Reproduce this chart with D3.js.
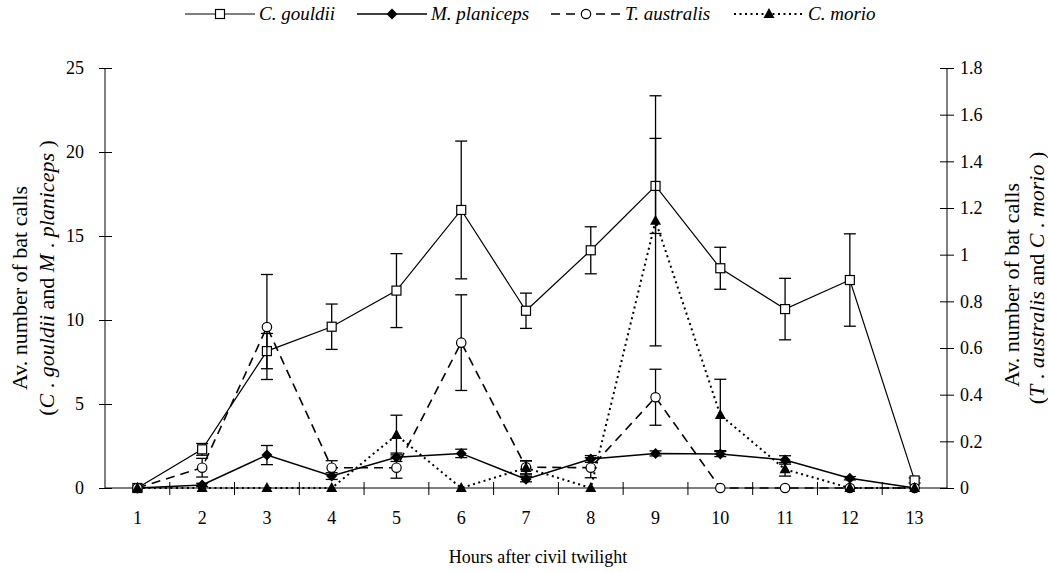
<!DOCTYPE html>
<html>
<head>
<meta charset="utf-8">
<script src="https://cdn.jsdelivr.net/npm/d3@7"></script>
<style>
  html, body { margin: 0; padding: 0; background: #fff; }
  svg { display: block; }
  svg text { font-family: "Liberation Serif", "Times New Roman", Times, "DejaVu Serif", serif !important; fill: #000; }
</style>
</head>
<body>
<svg id="chart" width="1048" height="572"></svg>
<script>
// ---------- data ----------
const categories = [1, 2, 3, 4, 5, 6, 7, 8, 9, 10, 11, 12, 13];
const leftTicks = [0, 5, 10, 15, 20, 25];
const rightTicks = [0, 0.2, 0.4, 0.6, 0.8, 1, 1.2, 1.4, 1.6, 1.8];

const gouldii      = [0, 2.3, 8.15, 9.6, 11.75, 16.55, 10.55, 14.15, 17.98, 13.08, 10.65, 12.38, 0.45];
const gouldiiErr   = [0, 0.35, 1.05, 1.35, 2.2, 4.1, 1.05, 1.4, 2.83, 1.25, 1.83, 2.75, 0.15];
const planiceps    = [0, 0.18, 1.96, 0.71, 1.83, 2.06, 0.52, 1.73, 2.06, 2.02, 1.67, 0.58, 0];
const planicepsErr = [0, 0.1, 0.57, 0.2, 0.25, 0.25, 0.15, 0.2, 0.15, 0.15, 0.25, 0.1, 0];
const australis    = [0, 0.087, 0.69, 0.087, 0.087, 0.623, 0.089, 0.087, 0.389, 0, 0, 0, 0];
const australisErr = [0, 0.04, 0.225, 0.03, 0.045, 0.205, 0.028, 0.043, 0.12, 0, 0, 0, 0];
const morio        = [0, 0, 0, 0, 0.227, 0, 0.086, 0, 1.145, 0.313, 0.08, 0, 0];
const morioErr     = [0, 0, 0, 0, 0.085, 0, 0.03, 0, 0.536, 0.153, 0.029, 0, 0];

// ---------- layout ----------
const svg = d3.select("#chart");
const plotLeft = 105, plotRight = 947, plotTop = 68, plotBottom = 488;
const SERIF = '"Liberation Serif", "Times New Roman", Times, serif';

const x = d3.scaleBand().domain(categories).range([plotLeft, plotRight]).padding(0);
const cx = c => x(c) + x.bandwidth() / 2;
const yL = d3.scaleLinear().domain([0, 25]).range([plotBottom, plotTop]);
const yR = d3.scaleLinear().domain([0, 1.8]).range([plotBottom, plotTop]);

const FONT = 18;
const TITLE_FONT = 22;
const LEGEND_FONT = 19;

// ---------- axes ----------
const axL = svg.append("g").attr("transform", `translate(${plotLeft},0)`)
  .call(d3.axisLeft(yL).tickValues(leftTicks).tickSize(6).tickPadding(15).tickFormat(d3.format("d")));
const axR = svg.append("g").attr("transform", `translate(${plotRight},0)`)
  .call(d3.axisRight(yR).tickValues(rightTicks).tickSize(7).tickPadding(6).tickFormat(d => String(+d.toFixed(1))));
[axL, axR].forEach(g => {
  g.attr("font-family", SERIF).attr("font-size", FONT);
  g.select(".domain").attr("stroke", "#000").attr("stroke-width", 1);
  g.selectAll(".tick text").style("font-family", SERIF).style("font-size", FONT + "px");
});
axL.selectAll(".tick line").attr("x1", 7).attr("x2", -6).attr("stroke", "#000");
axR.selectAll(".tick line").attr("x1", -7).attr("x2", 7).attr("stroke", "#000");
axL.select(".domain").attr("d", `M0,${plotTop}V${plotBottom}`);
axR.select(".domain").attr("d", `M0,${plotTop}V${plotBottom}`);

const axX = svg.append("g").attr("transform", `translate(0,${plotBottom})`)
  .call(d3.axisBottom(x).tickSize(0).tickPadding(23));
axX.attr("font-family", SERIF).attr("font-size", FONT);
axX.select(".domain").attr("d", `M${plotLeft},0H${plotRight}`).attr("stroke", "#000");
axX.selectAll(".tick text").style("font-family", SERIF).style("font-size", FONT + "px");
// cross tick marks between categories
const bounds = categories.map(c => x(c)).slice(1);
axX.selectAll("line.bnd").data(bounds).enter().append("line")
  .attr("class", "bnd").attr("x1", d => d).attr("x2", d => d)
  .attr("y1", -6).attr("y2", 7).attr("stroke", "#000");

// axis titles
svg.append("text").attr("x", 538).attr("y", 563)
  .attr("text-anchor", "middle").style("font-size", FONT + "px").style("font-family", SERIF)
  .text("Hours after civil twilight");

function rotTitle(xPos, yPos, parts) {
  const t = svg.append("text")
    .attr("transform", `translate(${xPos},${yPos}) rotate(-90)`)
    .attr("text-anchor", "middle").style("font-size", TITLE_FONT + "px").style("font-family", SERIF);
  parts.forEach(p => t.append("tspan").attr("font-style", p[1] ? "italic" : "normal").text(p[0]));
}
rotTitle(27, 288, [["Av. number of bat calls", false]]);
rotTitle(54, 278, [["(", false], ["C", true], [" . ", false], ["gouldii", true], ["  and ", false], ["M", true], [" . ", false], ["planiceps", true], [" )", false]]);
rotTitle(1019, 285, [["Av. number of bat calls", false]]);
rotTitle(1044, 278, [["(", false], ["T", true], [" . ", false], ["australis", true], [" and ", false], ["C", true], [" . ", false], ["morio", true], [" )", false]]);

// ---------- series ----------
const series = [
  { name: "C. gouldii",   vals: gouldii,   err: gouldiiErr,   y: yL, dash: null,    width: 1.2, marker: "square" },
  { name: "M. planiceps", vals: planiceps, err: planicepsErr, y: yL, dash: null,    width: 1.5, marker: "diamond" },
  { name: "T. australis", vals: australis, err: australisErr, y: yR, dash: "9,6",   width: 1.6, marker: "circle" },
  { name: "C. morio",     vals: morio,     err: morioErr,     y: yR, dash: "2,3.5", width: 2,   marker: "triangle" }
];

function drawMarker(g, type, px, py) {
  if (type === "square") {
    g.append("rect").attr("x", px - 4.5).attr("y", py - 4.5).attr("width", 9).attr("height", 9)
      .attr("fill", "#fff").attr("stroke", "#000").attr("stroke-width", 1.2);
  } else if (type === "diamond") {
    g.append("path").attr("d", `M${px},${py - 5.5}L${px + 5.5},${py}L${px},${py + 5.5}L${px - 5.5},${py}Z`)
      .attr("fill", "#000");
  } else if (type === "circle") {
    g.append("circle").attr("cx", px).attr("cy", py).attr("r", 4.7)
      .attr("fill", "#fff").attr("stroke", "#000").attr("stroke-width", 1.2);
  } else if (type === "triangle") {
    g.append("path").attr("d", `M${px},${py - 6}L${px + 5.5},${py + 4}L${px - 5.5},${py + 4}Z`)
      .attr("fill", "#000");
  }
}

series.forEach(s => {
  const g = svg.append("g");
  const line = d3.line().x((d, i) => cx(categories[i])).y(d => s.y(d));
  g.append("path").attr("d", line(s.vals)).attr("fill", "none").attr("stroke", "#000")
    .attr("stroke-width", s.width).attr("stroke-dasharray", s.dash);
  // error bars
  s.vals.forEach((v, i) => {
    const e = s.err[i];
    if (!e) return;
    const px = cx(categories[i]);
    const y1 = s.y(v + e), y2 = s.y(Math.max(0, v - e));
    g.append("line").attr("x1", px).attr("x2", px).attr("y1", y1).attr("y2", y2).attr("stroke", "#000").attr("stroke-width", 1.3);
    [y1, s.y(v - e)].forEach(yy => g.append("line").attr("x1", px - 6).attr("x2", px + 6)
      .attr("y1", yy).attr("y2", yy).attr("stroke", "#000").attr("stroke-width", 1.3));
  });
  s.vals.forEach((v, i) => drawMarker(g, s.marker, cx(categories[i]), s.y(v)));
});

// ---------- legend ----------
const legendItems = [
  { s: series[0], x0: 185, x1: 255 },
  { s: series[1], x0: 357, x1: 427 },
  { s: series[2], x0: 551, x1: 621 },
  { s: series[3], x0: 734, x1: 804 }
];
const ly = 14;
const lg = svg.append("g");
legendItems.forEach(it => {
  lg.append("line").attr("x1", it.x0).attr("x2", it.x1).attr("y1", ly).attr("y2", ly)
    .attr("stroke", "#000").attr("stroke-width", it.s.width).attr("stroke-dasharray", it.s.dash);
  drawMarker(lg, it.s.marker, (it.x0 + it.x1) / 2, ly);
  lg.append("text").attr("x", it.x1 + 4).attr("y", ly + 6).style("font-size", LEGEND_FONT + "px")
    .style("font-family", SERIF).attr("font-style", "italic").text(it.s.name);
});
</script>
</body>
</html>
